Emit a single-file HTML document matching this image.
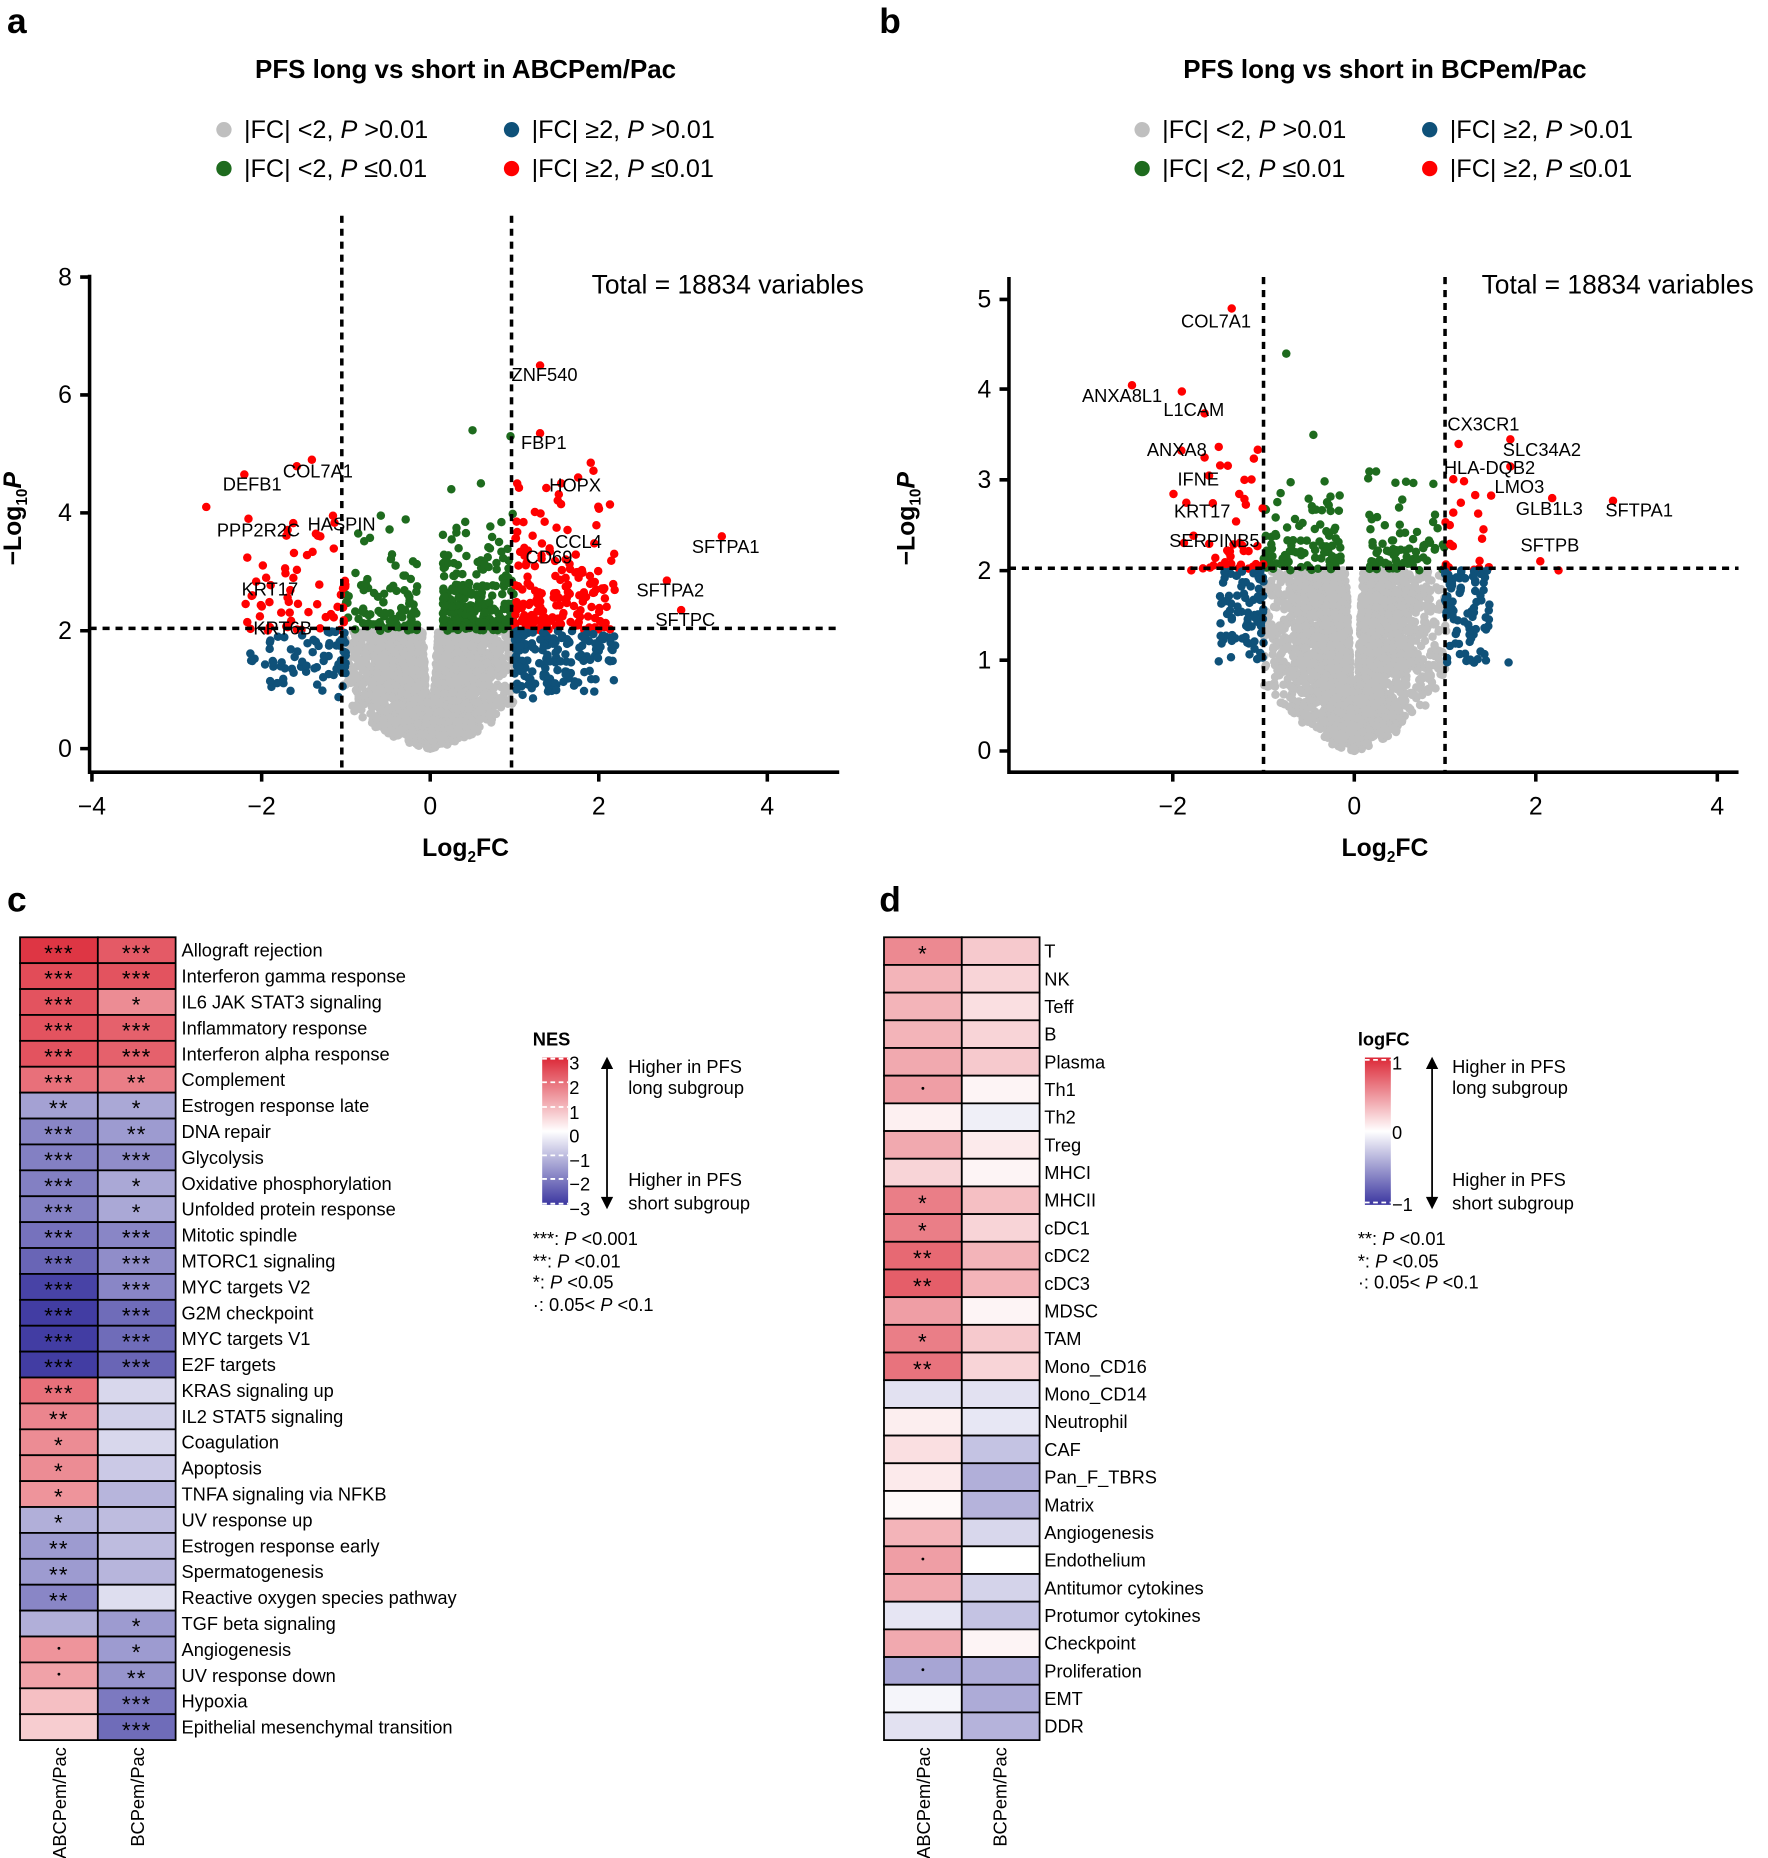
<!DOCTYPE html>
<html><head><meta charset="utf-8"><style>
html,body{margin:0;padding:0;background:#fff}
svg{display:block;font-family:"Liberation Sans",Arial,sans-serif}
</style></head><body>
<svg id="s" width="1768" height="1858" viewBox="0 0 1500 1576" preserveAspectRatio="none" xmlns="http://www.w3.org/2000/svg">
<defs>
<linearGradient id="gc" x1="0" y1="0" x2="0" y2="1">
<stop offset="0" stop-color="#dc2837"/><stop offset="0.5" stop-color="#ffffff"/><stop offset="1" stop-color="#3b36a0"/>
</linearGradient>
</defs>
<g font-weight="bold" font-size="30"><text x="6" y="28">a</text><text x="746" y="28">b</text><text x="6" y="773">c</text><text x="746" y="773">d</text></g>
<g font-weight="bold" font-size="22" text-anchor="middle"><text x="395" y="66">PFS long vs short in ABCPem/Pac</text><text x="1175" y="66">PFS long vs short in BCPem/Pac</text></g>
<g font-size="21.4">
<circle cx="190" cy="110" r="6.5" fill="#bfbfbf"/><text x="207" y="117">|FC| &lt;2, <tspan font-style="italic">P</tspan> &gt;0.01</text>
<circle cx="190" cy="143" r="6.5" fill="#1e6b1e"/><text x="207" y="150">|FC| &lt;2, <tspan font-style="italic">P</tspan> ≤0.01</text>
<circle cx="434" cy="110" r="6.5" fill="#0f5179"/><text x="451" y="117">|FC| ≥2, <tspan font-style="italic">P</tspan> &gt;0.01</text>
<circle cx="434" cy="143" r="6.5" fill="#f00"/><text x="451" y="150">|FC| ≥2, <tspan font-style="italic">P</tspan> ≤0.01</text>
<circle cx="969" cy="110" r="6.5" fill="#bfbfbf"/><text x="986" y="117">|FC| &lt;2, <tspan font-style="italic">P</tspan> &gt;0.01</text>
<circle cx="969" cy="143" r="6.5" fill="#1e6b1e"/><text x="986" y="150">|FC| &lt;2, <tspan font-style="italic">P</tspan> ≤0.01</text>
<circle cx="1213" cy="110" r="6.5" fill="#0f5179"/><text x="1230" y="117">|FC| ≥2, <tspan font-style="italic">P</tspan> &gt;0.01</text>
<circle cx="1213" cy="143" r="6.5" fill="#f00"/><text x="1230" y="150">|FC| ≥2, <tspan font-style="italic">P</tspan> ≤0.01</text>
</g>
<g font-size="22.4">
<text x="502" y="249">Total = 18834 variables</text>
<text x="1257" y="249">Total = 18834 variables</text>
</g>
<g id="pts"></g>
<g stroke="#000" stroke-width="3" stroke-dasharray="6,5" fill="none">
<line x1="290" y1="183" x2="290" y2="655"/><line x1="434" y1="183" x2="434" y2="655"/><line x1="76" y1="533" x2="712" y2="533"/>
<line x1="1072" y1="235" x2="1072" y2="655"/><line x1="1226" y1="235" x2="1226" y2="655"/><line x1="856" y1="482" x2="1475" y2="482"/>
</g>
<g stroke="#000" stroke-width="3" fill="none">
<path d="M76 233V655H712"/>
<path d="M68 235H76M68 335H76M68 435H76M68 535H76M68 635H76"/>
<path d="M78 655V663M222 655V663M365 655V663M508 655V663M651 655V663"/>
<path d="M856 235V655H1475"/>
<path d="M848 254H856M848 330H856M848 407H856M848 484H856M848 560H856M848 637H856"/>
<path d="M995 655V663M1149 655V663M1303 655V663M1457 655V663"/>
</g>
<g font-size="21" text-anchor="end">
<text x="61" y="242">8</text><text x="61" y="342">6</text><text x="61" y="442">4</text><text x="61" y="542">2</text><text x="61" y="642">0</text>
<text x="841" y="261">5</text><text x="841" y="337">4</text><text x="841" y="414">3</text><text x="841" y="491">2</text><text x="841" y="567">1</text><text x="841" y="644">0</text>
</g>
<g font-size="21" text-anchor="middle">
<text x="78" y="691">−4</text><text x="222" y="691">−2</text><text x="365" y="691">0</text><text x="508" y="691">2</text><text x="651" y="691">4</text>
<text x="995" y="691">−2</text><text x="1149" y="691">0</text><text x="1303" y="691">2</text><text x="1457" y="691">4</text>
</g>
<g font-size="21" font-weight="bold" text-anchor="middle">
<text x="395" y="726">Log<tspan font-size="13" dy="5">2</tspan><tspan dy="-5">FC</tspan></text>
<text x="1175" y="726">Log<tspan font-size="13" dy="5">2</tspan><tspan dy="-5">FC</tspan></text>
<text transform="translate(18,440) rotate(-90)">−Log<tspan font-size="13" dy="5">10</tspan><tspan dy="-5" font-style="italic">P</tspan></text>
<text transform="translate(776,440) rotate(-90)">−Log<tspan font-size="13" dy="5">10</tspan><tspan dy="-5" font-style="italic">P</tspan></text>
</g>
<g id="lab" font-size="15.5"></g>
<g id="hm"></g>
<g font-size="15.5">
<text x="452" y="887" font-weight="bold">NES</text>
<rect x="460" y="897" width="22" height="125" fill="url(#gc)"/>
<g stroke="#fff" stroke-width="1.5" stroke-dasharray="4,3"><line x1="460" y1="898" x2="482" y2="898"/><line x1="460" y1="918" x2="482" y2="918"/><line x1="460" y1="939" x2="482" y2="939"/><line x1="460" y1="980" x2="482" y2="980"/><line x1="460" y1="1000" x2="482" y2="1000"/><line x1="460" y1="1021" x2="482" y2="1021"/></g>
<text x="483" y="907">3</text><text x="483" y="928">2</text><text x="483" y="949">1</text><text x="483" y="969">0</text><text x="483" y="990">−1</text><text x="483" y="1010">−2</text><text x="483" y="1031">−3</text>
<text x="533" y="910">Higher in PFS</text><text x="533" y="928">long subgroup</text><text x="533" y="1006">Higher in PFS</text><text x="533" y="1026">short subgroup</text>
<text x="452" y="1056">***: <tspan font-style="italic">P</tspan> &lt;0.001</text><text x="452" y="1075">**: <tspan font-style="italic">P</tspan> &lt;0.01</text><text x="452" y="1093">*: <tspan font-style="italic">P</tspan> &lt;0.05</text><text x="452" y="1112">·: 0.05&lt; <tspan font-style="italic">P</tspan> &lt;0.1</text>
<text x="1152" y="887" font-weight="bold">logFC</text>
<rect x="1158" y="897" width="22" height="125" fill="url(#gc)"/>
<g stroke="#fff" stroke-width="1.5" stroke-dasharray="4,3"><line x1="1158" y1="899" x2="1180" y2="899"/><line x1="1158" y1="1020" x2="1180" y2="1020"/></g>
<text x="1181" y="907">1</text><text x="1181" y="966">0</text><text x="1181" y="1027">−1</text>
<text x="1232" y="910">Higher in PFS</text><text x="1232" y="928">long subgroup</text><text x="1232" y="1006">Higher in PFS</text><text x="1232" y="1026">short subgroup</text>
<text x="1152" y="1056">**: <tspan font-style="italic">P</tspan> &lt;0.01</text><text x="1152" y="1075">*: <tspan font-style="italic">P</tspan> &lt;0.05</text><text x="1152" y="1093">·: 0.05&lt; <tspan font-style="italic">P</tspan> &lt;0.1</text>
</g>
<g stroke="#000" stroke-width="1.5" fill="#000">
<line x1="515" y1="904" x2="515" y2="1018"/><path d="M511 906L515 898L519 906Z"/><path d="M511 1016L515 1024L519 1016Z"/>
<line x1="1215" y1="904" x2="1215" y2="1018"/><path d="M1211 906L1215 898L1219 906Z"/><path d="M1211 1016L1215 1024L1219 1016Z"/>
</g>
<g font-size="15.5" text-anchor="end">
<text transform="translate(56,1482) rotate(-90)">ABCPem/Pac</text><text transform="translate(122,1482) rotate(-90)">BCPem/Pac</text>
<text transform="translate(789,1482) rotate(-90)">ABCPem/Pac</text><text transform="translate(854,1482) rotate(-90)">BCPem/Pac</text>
</g>
</svg>
<script>
(function(){
var seed=12345;function r(){seed=(seed*1103515245+12345)%2147483648;return seed/2147483648;}
function nrm(){return Math.sqrt(-2*Math.log(r()+1e-9))*Math.cos(6.2832*r());}
var out=[];
function dot(px,py,c){out.push('<circle cx="'+px.toFixed(1)+'" cy="'+py.toFixed(1)+'" r="3.6" fill="'+c+'"/>');}
function A(x,y,c){dot(365+71.7*x,635-50*y,c);}
function B(x,y,c){dot(1149+77*x,637-76.6*y,c);}
function grey(F,n,ymax){for(var i=0;i<n;i++){var x=nrm()*0.42;if(Math.abs(x)>1.02){i--;continue;}var t=Math.abs(x);var lo=0.72*Math.pow(t,1.6);var hi=Math.min(ymax,t*22);if(hi<lo){i--;continue;}var y=lo+(hi-lo)*Math.pow(r(),0.8);F(x,y,'#bfbfbf');}}
function band(F,n,x0,x1,y0,y1,k,c,sgnP){for(var i=0;i<n;i++){var s=r()<sgnP?1:-1;var t=x0+(x1-x0)*Math.pow(r(),1.3);var y=y0-Math.log(1-r()*(1-Math.exp(-(y1-y0)/k)))*k;F(s*t,y,c);}}
grey(A,2600,2.0);
band(A,330,0.15,1,2,4,0.55,'#1e6b1e',0.72);
band(A,230,1,2.2,2,4.9,0.7,'#f00',0.75);
for(var i=0;i<230;i++){var s=r()<0.6?1:-1;var t=1+1.2*Math.pow(r(),1.6);var y=0.8+1.2*Math.pow(r(),0.6);A(s*t,y,'#0f5179');}
[[1.3,6.5],[1.3,5.35],[0.95,5.3],[0.5,5.4],[0.6,4.5],[0.25,4.4],[1.55,4.5],[1.9,4.85],[1.75,4.6],[-1.4,4.9],[-2.2,4.65],[-2.65,4.1],[-2.15,3.9],[-1.15,3.95],[-1.3,3.6],[3.45,3.6],[2.8,2.85],[2.97,2.35]].forEach(function(p){A(p[0],p[1],(Math.abs(p[0])<1?'#1e6b1e':'#f00'));});
grey(B,2600,2.0);
band(B,170,0.15,1,2,3.1,0.35,'#1e6b1e',0.45);
band(B,40,1,1.6,2,3.3,0.5,'#f00',0.6);
band(B,25,1,2.0,2,4,0.6,'#f00',0.0);
for(var i=0;i<170;i++){var s=r()<0.5?1:-1;var t=1+0.5*Math.pow(r(),1.4);var y=0.9+1.1*Math.pow(r(),0.6);B(s*t,y,'#0f5179');}
[[-1.35,4.9],[-2.45,4.05],[-1.9,3.98],[-1.65,3.25],[-1.6,3.05],[-1.85,2.75],[-0.75,4.4],[-0.45,3.5],[1.72,3.45],[1.15,3.4],[1.72,3.15],[2.18,2.8],[2.85,2.77],[2.05,2.1],[2.25,2.0],[1.7,0.98]].forEach(function(p){B(p[0],p[1],(Math.abs(p[0])<1?'#1e6b1e':(p[1]<2?'#0f5179':'#f00')));});
document.getElementById('pts').innerHTML=out.join('');
var L=[[434,323,'ZNF540'],[442,381,'FBP1'],[466,417,'HOPX'],[240,405,'COL7A1'],[189,416,'DEFB1'],[184,455,'PPP2R2C'],[261,450,'HASPIN'],[471,465,'CCL4'],[446,478,'CD69'],[587,469,'SFTPA1'],[540,506,'SFTPA2'],[556,531,'SFTPC'],[205,505,'KRT17'],[215,538,'KRT6B'],
[1002,278,'COL7A1'],[918,341,'ANXA8L1'],[987,353,'L1CAM'],[973,387,'ANXA8'],[999,412,'IFNE'],[996,439,'KRT17'],[992,464,'SERPINB5'],[1228,365,'CX3CR1'],[1275,387,'SLC34A2'],[1225,402,'HLA-DQB2'],[1268,418,'LMO3'],[1286,437,'GLB1L3'],[1362,438,'SFTPA1'],[1290,468,'SFTPB']];
document.getElementById('lab').innerHTML=L.map(function(l){return '<text x="'+l[0]+'" y="'+l[1]+'">'+l[2]+'</text>';}).join('');
function col(n){n=Math.max(-1,Math.min(1,n));var e=n>0?[220,40,55]:[59,54,160];var a=Math.abs(n);return 'rgb('+Math.round(255+(e[0]-255)*a)+','+Math.round(255+(e[1]-255)*a)+','+Math.round(255+(e[2]-255)*a)+')';}
var C=[["Allograft rejection",2.8,2.3,"***","***"],["Interferon gamma response",2.5,2.4,"***","***"],["IL6 JAK STAT3 signaling",2.4,1.6,"***","*"],["Inflammatory response",2.4,2.2,"***","***"],["Interferon alpha response",2.4,2.2,"***","***"],["Complement",2.0,1.8,"***","**"],["Estrogen response late",-1.4,-1.3,"**","*"],["DNA repair",-1.8,-1.5,"***","**"],["Glycolysis",-1.9,-1.7,"***","***"],["Oxidative phosphorylation",-1.9,-1.3,"***","*"],["Unfolded protein response",-1.9,-1.3,"***","*"],["Mitotic spindle",-2.1,-1.8,"***","***"],["MTORC1 signaling",-2.3,-1.7,"***","***"],["MYC targets V2",-2.8,-1.8,"***","***"],["G2M checkpoint",-2.9,-2.2,"***","***"],["MYC targets V1",-2.9,-2.2,"***","***"],["E2F targets",-2.9,-2.3,"***","***"],["KRAS signaling up",2.0,-0.6,"***",""],["IL2 STAT5 signaling",1.7,-0.7,"**",""],["Coagulation",1.6,-0.6,"*",""],["Apoptosis",1.6,-0.8,"*",""],["TNFA signaling via NFKB",1.5,-1.1,"*",""],["UV response up",-1.2,-1.0,"*",""],["Estrogen response early",-1.5,-1.0,"**",""],["Spermatogenesis",-1.5,-1.1,"**",""],["Reactive oxygen species pathway",-1.8,-0.5,"**",""],["TGF beta signaling",-1.2,-1.5,"","*"],["Angiogenesis",1.5,-1.5,"·","*"],["UV response down",1.3,-1.6,"·","**"],["Hypoxia",0.9,-2.0,"","***"],["Epithelial mesenchymal transition",0.7,-2.2,"","***"]];
var D=[["T",.55,.25,"*"],["NK",.35,.2,""],["Teff",.35,.15,""],["B",.35,.2,""],["Plasma",.4,.25,""],["Th1",.45,.05,"·"],["Th2",.07,-.08,""],["Treg",.4,.1,""],["MHCI",.2,.05,""],["MHCII",.6,.3,"*"],["cDC1",.6,.2,"*"],["cDC2",.7,.35,"**"],["cDC3",.75,.35,"**"],["MDSC",.45,.05,""],["TAM",.6,.25,"*"],["Mono_CD16",.65,.2,"**"],["Mono_CD14",-.15,-.15,""],["Neutrophil",.08,-.12,""],["CAF",.15,-.3,""],["Pan_F_TBRS",.1,-.4,""],["Matrix",.03,-.38,""],["Angiogenesis",.35,-.2,""],["Endothelium",.45,0,"·"],["Antitumor cytokines",.4,-.22,""],["Protumor cytokines",-.13,-.3,""],["Checkpoint",.4,.05,""],["Proliferation",-.45,-.42,"·"],["EMT",-.05,-.42,""],["DDR",-.15,-.38,""]];
function star(x,y,s){if(!s)return '';if(s=="·")return '<circle cx="'+x+'" cy="'+(y-1)+'" r="1.2" fill="#000"/>';return '<text x="'+x+'" y="'+(y+9)+'" font-size="19" text-anchor="middle" letter-spacing="1">'+s+'</text>';}
var h=[];
var y0=795,rh=(1476-795)/31;
C.forEach(function(c,i){var y=y0+i*rh,cy=y+rh/2;
h.push('<rect x="17" y="'+y+'" width="66" height="'+rh+'" fill="'+col(c[1]/3)+'" stroke="#000" stroke-width="1.5"/>');
h.push('<rect x="83" y="'+y+'" width="66" height="'+rh+'" fill="'+col(c[2]/3)+'" stroke="#000" stroke-width="1.5"/>');
h.push(star(50,cy,c[3]));h.push(star(116,cy,c[4]));
h.push('<text x="154" y="'+(cy+5.5)+'" font-size="15.5">'+c[0]+'</text>');});
var rd=(1476-795)/29;
D.forEach(function(c,i){var y=y0+i*rd,cy=y+rd/2;
h.push('<rect x="750" y="'+y+'" width="66" height="'+rd+'" fill="'+col(c[1])+'" stroke="#000" stroke-width="1.5"/>');
h.push('<rect x="816" y="'+y+'" width="66" height="'+rd+'" fill="'+col(c[2])+'" stroke="#000" stroke-width="1.5"/>');
h.push(star(783,cy,c[3]));
h.push('<text x="886" y="'+(cy+5.5)+'" font-size="15.5">'+c[0]+'</text>');});
document.getElementById('hm').innerHTML=h.join('');
})();
</script>
</body></html>
